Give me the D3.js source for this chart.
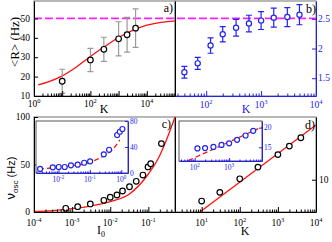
<!DOCTYPE html>
<html>
<head>
<meta charset="utf-8">
<script src="https://cdn.jsdelivr.net/npm/d3@7/dist/d3.min.js"></script>
<style>
body { margin: 0; background: #fff; }
svg { display: block; }
text { font-family: "Liberation Serif", "DejaVu Serif", serif; }
</style>
</head>
<body>
<div id="vis"></div>
<script>
////////// data //////////

// a) <R> vs K, with fit curve
var kA = [10, 100, 300, 1000, 2000, 4000];
var rA = [17.6, 28.6, 34.1, 39.5, 41.6, 45.0];
var errA = [6.2, 6.0, 6.2, 8.8, 9.0, 9.9];
var fitKA = [1.4, 3.2, 10, 32, 100, 320, 1000, 3200, 10000, 32000, 100000];
var fitRA = [15.7, 17.3, 20.4, 25.0, 30.4, 35.5, 40.2, 43.8, 46.5, 48.0, 48.8];
var rLimit = 50;

// b) ratio vs K
var kB = [40, 70, 120, 200, 350, 600, 1000, 1700, 3000, 5000];
var rB = [1.60, 1.75, 2.05, 2.24, 2.35, 2.42, 2.47, 2.52, 2.53, 2.57];
var errB = [0.10, 0.10, 0.13, 0.13, 0.14, 0.14, 0.15, 0.16, 0.16, 0.17];

// c) nu_osc vs I0
var iC = [6.8e-4, 1.4e-3, 3.0e-3, 6.8e-3, 0.010, 0.015, 0.021, 0.032, 0.048, 0.072, 0.098, 0.115, 0.22];
var nuC = [3.9, 5.6, 8.5, 12.3, 15.5, 17.9, 22.1, 26.6, 32.3, 38.9, 47.4, 50.8, 72];
var fitIC = [1e-4, 3.2e-4, 1e-3, 3.2e-3, 0.01, 0.032, 0.1, 0.18, 0.32, 0.5];
var fitNuC = [0.5, 1.5, 3.5, 6.5, 11, 19, 40, 56, 79, 100];
// c) inset
var iCi = [2.6e-3, 6.6e-3, 0.0102, 0.0158, 0.025, 0.041, 0.066, 0.102, 0.278, 0.41, 0.74, 0.90, 1.09];
var nuCi = [6.2, 8.8, 9.2, 9.2, 11.8, 12.8, 15.8, 18.0, 28.8, 35.8, 58.5, 63.5, 67.7];
var fitICi = [2.4e-3, 6.3e-3, 0.025, 0.1, 0.28, 0.5, 0.9];
var fitNuCi = [6, 7.7, 10.8, 16.5, 26.6, 35, 50.8];

// d) nu_osc vs K
var kD = [10, 30, 100, 300, 1000, 2000, 4000];
var nuD = [7.9, 8.7, 10.1, 11.5, 13.2, 14.5, 15.9];
var fitKD = [9, 10000];
var fitNuD = [7.0, 18.3];
// d) inset
var kDi = [120, 200, 350, 600, 1000, 1700, 3000, 5000];
var nuDi = [14.7, 14.8, 15.1, 15.6, 16.0, 16.9, 18.0, 19.2];
var fitKDi = [65, 9000];
var fitNuDi = [11.6, 20.2];

var blue = "#2222ee", red = "#ff1010", magenta = "#ff22ff", grey = "#9a9a9a";

////////// scales //////////

var xA = d3.scaleLog().domain([1, 1e5]).range([34, 175]);
var yA = d3.scaleLinear().domain([10, 59]).range([96, 1]);
var xB = d3.scaleLog().domain([27, 1e4]).range([175, 316]);
var yB = d3.scaleLinear().domain([1.2, 2.8]).range([96, 1]);
var xC = d3.scaleLog().domain([1e-4, 0.5]).range([34, 175]);
var yC = d3.scaleLinear().domain([0, 100]).range([212, 117]);
var xD = d3.scaleLog().domain([2, 1e4]).range([175, 316]);
var yD = d3.scaleLog().domain([7, 20]).range([212, 117]);
var xCi = d3.scaleLog().domain([1.93e-3, 1.64]).range([36, 128]);
var yCi = d3.scaleLinear().domain([0, 80]).range([173, 121]);
var xDi = d3.scaleLog().domain([35, 9000]).range([179, 262]);
var yDi = d3.scaleLinear().domain([11.5, 21.7]).range([161, 121]);

var svg = d3.select("#vis").append("svg")
    .attr("width", 332)
    .attr("height", 242);

////////// helpers //////////

function zip(xs, ys) {
  return xs.map(function(x, i) { return [x, ys[i]]; });
}

function logMajors(scale) {
  var d = scale.domain(), out = [];
  for (var e = Math.ceil(Math.log10(d[0]) - 1e-9); e <= Math.floor(Math.log10(d[1]) + 1e-9); e++)
    out.push(Math.pow(10, e));
  return out;
}

function logMinors(scale) {
  var d = scale.domain(), out = [];
  for (var e = Math.floor(Math.log10(d[0])); e < Math.ceil(Math.log10(d[1])); e++)
    for (var m = 2; m < 10; m++) {
      var v = m * Math.pow(10, e);
      if (v >= d[0] && v <= d[1]) out.push(v);
    }
  return out;
}

function xLogAxis(scale, y, labelExps, col, fs, labelDy, major) {
  var g = svg.append("g").attr("transform", "translate(0," + y + ")");
  g.call(d3.axisBottom(scale).tickValues(logMajors(scale)).tickSize(-major).tickSizeOuter(0).tickFormat(""));
  g.append("g")
      .call(d3.axisBottom(scale).tickValues(logMinors(scale)).tickSize(-major / 2).tickSizeOuter(0).tickFormat(""))
    .select(".domain").remove();
  g.selectAll("path, line").attr("stroke", col);
  g.selectAll(".lbl")
      .data(labelExps)
      .enter()
      .append("text")
      .attr("class", "lbl")
      .attr("x", function(e) { return scale(Math.pow(10, e)); })
      .attr("y", labelDy)
      .attr("text-anchor", "middle")
      .attr("font-size", fs)
      .attr("fill", col)
      .each(function(e) {
        var t = d3.select(this);
        t.append("tspan").text("10");
        t.append("tspan").attr("dy", -fs * 0.42).attr("font-size", fs * 0.68).text(e);
      });
  return g;
}

function yAxis(axisFn, scale, x, ticks, col, fs, pad, size) {
  var g = svg.append("g")
      .attr("transform", "translate(" + x + ",0)")
      .call(axisFn(scale).tickValues(ticks).tickSize(-size).tickSizeOuter(0).tickPadding(pad).tickFormat(d3.format("")));
  g.selectAll("path, line").attr("stroke", col);
  g.selectAll("text").attr("fill", col).attr("font-size", fs).attr("dy", "0.28em");
  return g;
}

function errorBars(xs, ys, es, sx, sy, col) {
  svg.append("g")
      .attr("stroke", col)
      .attr("stroke-width", 1.2)
      .attr("fill", "none")
    .selectAll("path")
      .data(xs.map(function(x, i) { return {x: x, y: ys[i], e: es[i]}; }))
      .enter()
      .append("path")
      .attr("d", function(p) {
        var cx = sx(p.x), y0 = sy(p.y - p.e), y1 = sy(p.y + p.e);
        return "M" + cx + "," + y0 + "V" + y1 +
               "M" + (cx - 3) + "," + y0 + "H" + (cx + 3) +
               "M" + (cx - 3) + "," + y1 + "H" + (cx + 3);
      });
}

function points(xs, ys, sx, sy, col, r) {
  svg.append("g")
    .selectAll("circle")
      .data(zip(xs, ys))
      .enter()
      .append("circle")
      .attr("cx", function(d) { return sx(d[0]); })
      .attr("cy", function(d) { return sy(d[1]); })
      .attr("r", r)
      .attr("fill", "#fff")
      .attr("stroke", col)
      .attr("stroke-width", 1.2);
}

function curve(xs, ys, sx, sy, dash, clip) {
  svg.append("path")
      .datum(zip(xs, ys))
      .attr("fill", "none")
      .attr("stroke", red)
      .attr("stroke-width", 1.3)
      .attr("stroke-dasharray", dash)
      .attr("clip-path", clip)
      .attr("d", d3.line()
          .x(function(d) { return sx(d[0]); })
          .y(function(d) { return sy(d[1]); })
          .curve(d3.curveMonotoneX));
}

var defs = svg.append("defs");
defs.append("clipPath").attr("id", "clipC")
  .append("rect").attr("x", 34).attr("y", 117).attr("width", 141).attr("height", 95);
defs.append("clipPath").attr("id", "clipD")
  .append("rect").attr("x", 175).attr("y", 117).attr("width", 141).attr("height", 95);

////////// frames //////////

[[34, 1], [175, 1], [34, 117], [175, 117]].forEach(function(p) {
  svg.append("rect")
      .attr("x", p[0]).attr("y", p[1])
      .attr("width", 141).attr("height", 95)
      .attr("fill", "none")
      .attr("stroke", grey)
      .attr("stroke-width", 1.4);
});

////////// a) and b) //////////

svg.append("line")
    .attr("x1", xA.range()[0]).attr("x2", xB.range()[1])
    .attr("y1", yA(rLimit)).attr("y2", yA(rLimit))
    .attr("stroke", magenta)
    .attr("stroke-width", 1.7)
    .attr("stroke-dasharray", "8,3");

curve(fitKA, fitRA, xA, yA, null, null);
errorBars(kA, rA, errA, xA, yA, grey);
points(kA, rA, xA, yA, "#000", 2.8);

errorBars(kB, rB, errB, xB, yB, blue);
points(kB, rB, xB, yB, blue, 2.6);

xLogAxis(xA, 96, [0, 2, 4], "#000", 9.5, 11, 5);
yAxis(d3.axisLeft, yA, 34, [10, 20, 30, 40, 50], "#000", 9.5, 4, 4);

xLogAxis(xB, 96, [2, 3, 4], blue, 9.5, 11.5, 5);
yAxis(d3.axisRight, yB, 316, [1.5, 2, 2.5], blue, 9.5, 2, 4);
yAxis(d3.axisLeft, yB, 175, [], "#000", 9.5, 2, 4);

////////// c) and d) //////////

curve(fitIC, fitNuC, xC, yC, null, "url(#clipC)");
points(iC, nuC, xC, yC, "#000", 2.8);

curve(fitKD, fitNuD, xD, yD, null, "url(#clipD)");
points(kD, nuD, xD, yD, "#000", 2.8);

xLogAxis(xC, 212, [-4, -3, -2, -1], "#000", 9.5, 13.5, 5);
yAxis(d3.axisLeft, yC, 34, [0, 50, 100], "#000", 9.5, 4, 4);

xLogAxis(xD, 212, [1, 2, 3, 4], "#000", 9.5, 13.5, 5);
yAxis(d3.axisRight, yD, 316, [10], "#000", 9.5, 3, 4);
yAxis(d3.axisLeft, yD, 175, [], "#000", 9.5, 2, 4);

////////// insets //////////

svg.append("rect")
    .attr("x", 36).attr("y", 121).attr("width", 92).attr("height", 52)
    .attr("fill", "#fff").attr("stroke", "#444").attr("stroke-width", 0.9);
curve(fitICi, fitNuCi, xCi, yCi, "5,3", null);
points(iCi, nuCi, xCi, yCi, blue, 2.5);
xLogAxis(xCi, 173, [-2, -1, 0], blue, 7.5, 9, 3);
yAxis(d3.axisRight, yCi, 128, [0, 40, 80], blue, 7.5, 2, 3);

svg.append("rect")
    .attr("x", 179).attr("y", 121).attr("width", 83).attr("height", 40)
    .attr("fill", "#fff").attr("stroke", "#444").attr("stroke-width", 0.9);
curve(fitKDi, fitNuDi, xDi, yDi, "5,3", null);
points(kDi, nuDi, xDi, yDi, blue, 2.5);
xLogAxis(xDi, 161, [2, 3], blue, 7.5, 9, 3);
yAxis(d3.axisRight, yDi, 262, [15, 20], blue, 7.5, 2, 3);

////////// labels //////////

svg.append("text")
    .attr("transform", "translate(19,42) rotate(-90)")
    .attr("text-anchor", "middle")
    .attr("font-size", 13)
    .text("<R> (Hz)");

var nu = svg.append("text")
    .attr("transform", "translate(15,178) rotate(-90)")
    .attr("text-anchor", "middle")
    .attr("font-size", 13)
    .style("font-family", "'Liberation Sans', 'DejaVu Sans', sans-serif");
nu.append("tspan").text("ν");
nu.append("tspan").attr("dy", 3).attr("font-size", 8).text("osc");
nu.append("tspan").attr("dy", -3).attr("font-size", 11).text(" (Hz)");

svg.append("text").attr("x", 104).attr("y", 112.5).attr("text-anchor", "middle")
    .attr("font-size", 12).text("K");
svg.append("text").attr("x", 246).attr("y", 113).attr("text-anchor", "middle")
    .attr("font-size", 12).attr("fill", blue).text("K");
svg.append("text").attr("x", 245).attr("y", 235).attr("text-anchor", "middle")
    .attr("font-size", 12).text("K");

var i0 = svg.append("text").attr("x", 101).attr("y", 234).attr("text-anchor", "middle")
    .attr("font-size", 12);
i0.append("tspan").text("I");
i0.append("tspan").attr("dy", 3).attr("font-size", 8).text("0");

[["a)", 173, 12], ["b)", 316, 13], ["c)", 171, 128], ["d)", 315, 128.5]].forEach(function(l) {
  svg.append("text")
      .attr("x", l[1]).attr("y", l[2])
      .attr("text-anchor", "end")
      .attr("font-size", 12)
      .text(l[0]);
});
</script>
</body>
</html>
